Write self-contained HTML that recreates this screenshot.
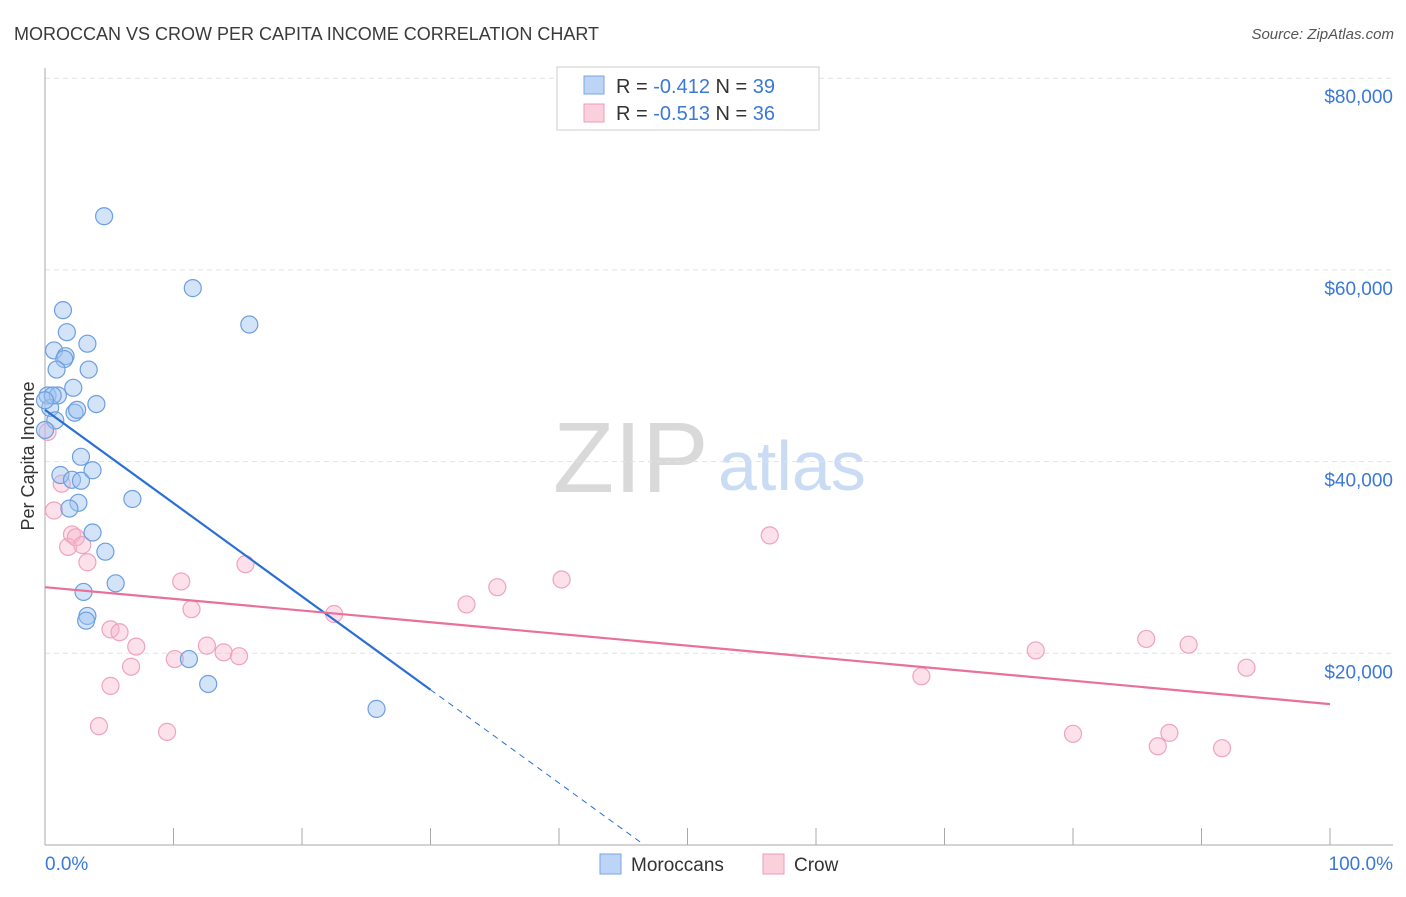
<!DOCTYPE html>
<html><head><meta charset="utf-8">
<style>
body{margin:0;background:#fff;font-family:"Liberation Sans",sans-serif;}
svg text{font-family:"Liberation Sans",sans-serif;}
</style></head>
<body>
<svg id="chart" width="1406" height="892" xmlns="http://www.w3.org/2000/svg">
<text x="14" y="40" font-size="18" fill="#3a3a3a">MOROCCAN VS CROW PER CAPITA INCOME CORRELATION CHART</text>
<text x="1394" y="39" font-size="15" fill="#555" font-style="italic" text-anchor="end">Source: ZipAtlas.com</text>
<g>
<text x="553" y="492" font-size="100" fill="#d9d9d9" font-family="Liberation Serif, serif">ZIP</text>
<text x="718" y="490" font-size="70" fill="#c9dcf3">atlas</text>
</g>
<g id="grid"></g>
<g id="axes"></g>
<g id="marks"></g>
<g>
<rect x="557" y="67" width="262" height="63" fill="#fff" stroke="#ccc"/>
<rect x="584" y="76" width="20" height="18" fill="#bcd4f5" stroke="#7aa6e3"/>
<text x="616" y="93" font-size="20" fill="#333">R = <tspan fill="#3b78d8">-0.412</tspan>   N = <tspan fill="#3b78d8">39</tspan></text>
<rect x="584" y="104" width="20" height="18" fill="#fbd0dd" stroke="#ee9bb6"/>
<text x="616" y="120" font-size="20" fill="#333">R = <tspan fill="#3b78d8">-0.513</tspan>   N = <tspan fill="#3b78d8">36</tspan></text>
</g>
<g>
<rect x="600" y="854" width="21" height="20" fill="#bcd4f5" stroke="#7aa6e3"/>
<text x="631" y="871" font-size="19" fill="#333">Moroccans</text>
<rect x="763" y="854" width="21" height="20" fill="#fbd0dd" stroke="#ee9bb6"/>
<text x="794" y="871" font-size="19" fill="#333">Crow</text>
</g>
</svg>
<script>
const yTicks=[20000,40000,60000,80000];
const yTickLabels=["$20,000","$40,000","$60,000","$80,000"];
const xTickPct=[0,10,20,30,40,50,60,70,80,90,100];
const moroccanX=[4.6,11.5,15.9,1.4,1.7,0.7,3.3,1.6,1.5,0.9,3.4,2.2,0.2,1.0,0.4,4.0,2.3,2.5,0.8,0,2.8,1.2,2.1,2.8,3.7,2.6,1.9,6.8,3.7,4.7,5.5,3.0,3.3,3.2,11.2,12.7,25.8,0.6,0];
const moroccanY=[65600,58100,54300,55800,53500,51600,52300,51000,50700,49600,49600,47700,46900,46900,45600,46000,45100,45400,44300,43300,40500,38600,38100,38000,39100,35700,35100,36100,32600,30600,27300,26400,23900,23400,19400,16800,14200,46900,46400];
const crowX=[0.2,1.3,0.7,1.8,2.1,2.4,2.9,3.3,10.6,11.4,15.6,22.5,32.8,35.2,40.2,56.4,5.1,5.8,7.1,6.7,10.1,12.6,13.9,15.1,5.1,4.2,9.5,68.2,77.1,85.7,89.0,93.5,80.0,86.6,87.5,91.6];
const crowY=[43100,37700,34900,31100,32400,32100,31300,29500,27500,24600,29300,24100,25100,26900,27700,32300,22500,22200,20700,18600,19400,20800,20100,19700,16600,12400,11800,17600,20300,21500,20900,18500,11600,10300,11700,10100];
const moroccanTrend=[45400,16200]; // values at 0% and 30%
const moroccanTrendEnd=[30,46.5];
const crowTrend=[26900,14700]; // values at 0% and 100%

const NS="http://www.w3.org/2000/svg";
const X0=45,X1=1330,YB=845,PXPER=191.7/20000;
const xs=p=>X0+(X1-X0)*p/100;
const ys=v=>YB-v*PXPER;
function mk(tag,attrs,parent){const e=document.createElementNS(NS,tag);for(const k in attrs)e.setAttribute(k,attrs[k]);parent.appendChild(e);return e;}
const grid=document.getElementById('grid'),axes=document.getElementById('axes'),marks=document.getElementById('marks');
yTicks.forEach((t,i)=>{
 const l=mk('line',{x1:X0,x2:1393,y1:ys(t),y2:ys(t),stroke:'#e2e2e2','stroke-dasharray':'5,4'},grid);
 
 
 const tx=mk('text',{x:1393,y:ys(t)+25,'font-size':19,fill:'#3b78d8','text-anchor':'end'},axes);
 tx.textContent=yTickLabels[i];
 
 
});
const va=mk('line',{x1:X0,x2:X0,y1:68,y2:YB,stroke:'#aaa'},axes);


const ha=mk('line',{x1:X0,x2:1393,y1:YB,y2:YB,stroke:'#aaa'},axes);


xTickPct.forEach(p=>{
 const t=mk('line',{x1:xs(p),x2:xs(p),y1:828,y2:YB,stroke:'#aaa'},axes);
 
 
});
const xl0=mk('text',{x:45,y:870,'font-size':19,fill:'#3b78d8'},axes);xl0.textContent='0.0%';


const xl1=mk('text',{x:1393,y:870,'font-size':19,fill:'#3b78d8','text-anchor':'end'},axes);xl1.textContent='100.0%';


const yt=mk('text',{x:0,y:0,'font-size':18,fill:'#333','text-anchor':'middle',transform:'translate(34,456) rotate(-90)'},axes);yt.textContent='Per Capita Income';



crowX.forEach((x,i)=>{
 const c=mk('circle',{cx:xs(x),cy:ys(crowY[i]),r:8.5,fill:'rgba(248,180,202,0.4)',stroke:'#efa3bc','stroke-width':1.2},marks);
 
 
});
moroccanX.forEach((x,i)=>{
 const c=mk('circle',{cx:xs(x),cy:ys(moroccanY[i]),r:8.5,fill:'rgba(160,196,240,0.45)',stroke:'#6c9fe0','stroke-width':1.2},marks);
 
 
});
const slope=(moroccanTrend[1]-moroccanTrend[0])/moroccanTrendEnd[0];
const bl=mk('line',{x1:xs(0),y1:ys(moroccanTrend[0]),x2:xs(moroccanTrendEnd[0]),y2:ys(moroccanTrend[1]),stroke:'#2a6fd6','stroke-width':2.2},marks);


const bd=mk('line',{x1:xs(moroccanTrendEnd[0]),y1:ys(moroccanTrend[1]),x2:xs(moroccanTrendEnd[1]),y2:ys(moroccanTrend[0]+slope*moroccanTrendEnd[1]),stroke:'#2a6fd6','stroke-width':1,'stroke-dasharray':'6,5'},marks);


const pl=mk('line',{x1:xs(0),y1:ys(crowTrend[0]),x2:xs(100),y2:ys(crowTrend[1]),stroke:'#e8709a','stroke-width':2.2},marks);


</script>
</body></html>
